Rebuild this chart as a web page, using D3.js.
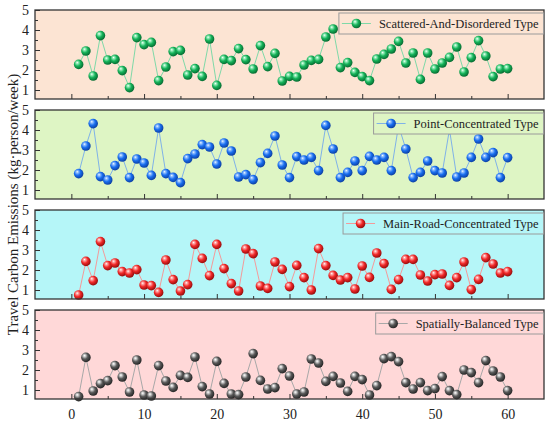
<!DOCTYPE html>
<html>
<head>
<meta charset="utf-8">
<script src="https://cdn.jsdelivr.net/npm/d3@7"></script>
<style>
  body { margin: 0; background: #fff; }
  text { font-family: "Liberation Serif", "Times New Roman", serif; fill: #222; }
</style>
</head>
<body>
<svg id="chart"></svg>
<script>
// data (x = 1..60 for every series)
const seriesNames = ["Scattered-And-Disordered Type", "Point-Concentrated Type",
                     "Main-Road-Concentrated Type", "Spatially-Balanced Type"];
const scattered = [2.28, 2.95, 1.7, 3.72, 2.5, 2.53, 1.97, 1.12, 3.62, 3.27,
                   3.38, 1.47, 2.15, 2.92, 2.98, 1.75, 2.07, 1.68, 3.55, 1.23,
                   2.53, 2.47, 3.07, 2.52, 2.05, 3.22, 2.17, 2.83, 1.45, 1.68,
                   1.65, 2.25, 2.48, 2.53, 3.65, 4.05, 2.12, 2.37, 1.88, 1.67,
                   1.47, 2.55, 2.78, 3.05, 3.43, 2.35, 2.85, 1.53, 2.85, 2.05,
                   2.35, 2.63, 3.15, 1.9, 2.62, 3.47, 2.7, 1.67, 2.05, 2.07];
const pointConc = [1.82, 3.2, 4.32, 1.67, 1.5, 2.22, 2.65, 1.62, 2.55, 2.35,
                   1.73, 4.1, 1.82, 1.63, 1.37, 2.57, 2.8, 3.27, 3.15, 2.3,
                   3.35, 2.95, 1.65, 1.77, 1.52, 2.37, 2.83, 3.7, 2.25, 1.62,
                   2.67, 2.5, 2.63, 1.97, 4.23, 3.05, 1.62, 1.88, 2.45, 1.97,
                   2.68, 2.5, 2.63, 1.97, 4.22, 3.05, 1.62, 1.88, 2.45, 1.97,
                   1.85, 4.03, 1.65, 1.85, 2.63, 3.55, 2.63, 2.87, 1.62, 2.62];
const mainRoad  = [0.75, 2.43, 1.47, 3.42, 2.22, 2.35, 1.92, 1.85, 2.02, 1.25,
                   1.22, 0.88, 2.5, 1.52, 0.95, 1.27, 3.28, 2.58, 1.72, 3.28,
                   2.07, 1.32, 0.95, 3.05, 2.82, 1.2, 1.08, 2.4, 2.03, 1.17,
                   2.23, 1.62, 1.0, 3.07, 2.22, 1.73, 1.5, 1.62, 1.05, 2.2,
                   1.63, 2.85, 2.32, 1.03, 1.52, 2.53, 2.53, 1.75, 1.45, 1.77,
                   1.8, 1.23, 1.62, 2.4, 1.02, 1.53, 2.62, 2.3, 1.85, 1.92];
const balanced  = [0.67, 2.63, 0.95, 1.32, 1.47, 2.22, 1.65, 0.9, 2.5, 0.75,
                   0.7, 2.22, 1.45, 1.13, 1.73, 1.63, 2.65, 1.17, 0.8, 2.43,
                   1.33, 0.8, 0.77, 1.65, 2.82, 1.48, 1.05, 1.12, 2.07, 1.7,
                   0.8, 0.9, 2.55, 2.35, 1.43, 1.68, 1.35, 0.93, 1.68, 1.52,
                   0.75, 1.22, 2.57, 2.67, 2.42, 1.37, 1.05, 1.37, 0.97, 1.07,
                   1.67, 0.97, 0.77, 2.0, 1.87, 1.37, 2.47, 1.95, 1.65, 0.97];
const seriesValues = [scattered, pointConc, mainRoad, balanced];
const yTicks = [1, 2, 3, 4, 5];
const xTicks = [0, 10, 20, 30, 40, 50, 60];
const yTitle = "Travel Carbon Emissions (kg\u00b7person/week)";

// look of each panel
const panelBg   = ["#fce4d3", "#def5c4", "#b5f6f8", "#ffd8d8"];
const lineColor = ["#7fd9a8", "#7fb2e8", "#f49a9a", "#a8a8a8"];
const ballMain  = ["#16b35a", "#1a6ff0", "#f22a2a", "#5a5a5a"];
const ballDark  = ["#04622c", "#0a3a9a", "#8a0808", "#1e1e1e"];
const ballLight = ["#9ff0c0", "#9cc6ff", "#ffb0b0", "#d8d8d8"];

const width = 550, height = 425;
const margin = { left: 35, right: 6 };
const panelTop0 = 10, panelH = 89, panelStep = 100;

const svg = d3.select("#chart").attr("width", width).attr("height", height);
const defs = svg.append("defs");

const x = d3.scaleLinear().domain([-5, 65]).range([margin.left, width - margin.right]);

seriesValues.forEach(function (vals, i) {
    const top = panelTop0 + i * panelStep;
    const bottom = top + panelH;
    const y = d3.scaleLinear().domain([0.55, 5]).range([bottom, top]);
    const pts = vals.map((v, k) => ({ x: k + 1, y: v }));

    // shiny ball gradient
    const grad = defs.append("radialGradient").attr("id", "ball" + i)
        .attr("cx", "40%").attr("cy", "40%").attr("r", "65%")
        .attr("fx", "35%").attr("fy", "30%");
    grad.append("stop").attr("offset", "0%").attr("stop-color", "#ffffff");
    grad.append("stop").attr("offset", "15%").attr("stop-color", ballLight[i]);
    grad.append("stop").attr("offset", "50%").attr("stop-color", ballMain[i]);
    grad.append("stop").attr("offset", "100%").attr("stop-color", ballDark[i]);

    const g = svg.append("g");

    g.append("rect")
        .attr("x", x.range()[0]).attr("y", top)
        .attr("width", x.range()[1] - x.range()[0]).attr("height", panelH)
        .attr("fill", panelBg[i]);

    // y axis, ticks pointing inward
    g.append("g")
        .attr("transform", "translate(" + x.range()[0] + ",0)")
        .call(d3.axisLeft(y).tickValues(yTicks).tickSize(-5).tickPadding(6).tickFormat(d3.format("d")))
        .call(a => a.select(".domain").remove())
        .call(a => a.selectAll("text").style("font-size", "14px").attr("fill", "#222"));
    g.append("g")
        .attr("transform", "translate(" + x.range()[0] + ",0)")
        .call(d3.axisLeft(y).tickValues([1.5, 2.5, 3.5, 4.5]).tickSize(-3).tickFormat(""))
        .call(a => a.select(".domain").remove());

    // x axis on the bottom of the panel
    const xa = g.append("g")
        .attr("transform", "translate(0," + bottom + ")")
        .call(d3.axisBottom(x).tickValues(xTicks).tickSize(-5).tickPadding(10).tickFormat(d3.format("d")))
        .call(a => a.select(".domain").remove())
        .call(a => a.selectAll("text").style("font-size", "14px").attr("fill", "#222"));
    if (i < seriesValues.length - 1) xa.selectAll("text").remove();
    g.append("g")
        .attr("transform", "translate(0," + bottom + ")")
        .call(d3.axisBottom(x).tickValues(d3.range(5, 60, 10)).tickSize(-3).tickFormat(""))
        .call(a => a.select(".domain").remove());

    g.selectAll(".tick line").attr("stroke", "#333");

    // connecting line
    g.append("path")
        .datum(pts)
        .attr("fill", "none")
        .attr("stroke", lineColor[i])
        .attr("stroke-width", 1)
        .attr("d", d3.line().x(d => x(d.x)).y(d => y(d.y)));

    g.selectAll("circle.pt")
        .data(pts)
        .enter()
        .append("circle")
        .attr("class", "pt")
        .attr("cx", d => x(d.x))
        .attr("cy", d => y(d.y))
        .attr("r", 4.8)
        .attr("fill", "url(#ball" + i + ")");

    // frame
    g.append("rect")
        .attr("x", x.range()[0]).attr("y", top)
        .attr("width", x.range()[1] - x.range()[0]).attr("height", panelH)
        .attr("fill", "none")
        .attr("stroke", "#333")
        .attr("stroke-width", 1.3);

    // legend box, flush right
    const leg = g.append("g");
    const txt = leg.append("text")
        .attr("y", top + 13.5 + 4.5)
        .style("font-size", "12.5px")
        .text(seriesNames[i]);
    const tw = txt.node().getComputedTextLength();
    const boxRight = x.range()[1] - 0.5;
    const textX = boxRight - 5 - tw;
    txt.attr("x", textX);
    const lineX1 = textX - 37, lineX2 = textX - 8;
    leg.insert("rect", "text")
        .attr("x", lineX1 - 3).attr("y", top + 3)
        .attr("width", boxRight - lineX1 + 3).attr("height", 21)
        .attr("fill", panelBg[i])
        .attr("stroke", "#9a9a9a")
        .attr("stroke-width", 1);
    leg.append("line")
        .attr("x1", lineX1).attr("x2", lineX2)
        .attr("y1", top + 13.5).attr("y2", top + 13.5)
        .attr("stroke", lineColor[i]).attr("stroke-width", 1);
    leg.append("circle")
        .attr("cx", (lineX1 + lineX2) / 2).attr("cy", top + 13.5)
        .attr("r", 4.8)
        .attr("fill", "url(#ball" + i + ")");
});

// shared y title
svg.append("text")
    .attr("transform", "translate(13," + (panelTop0 + (3 * panelStep + panelH) / 2) + ") rotate(-90)")
    .attr("text-anchor", "middle")
    .attr("dy", "0.35em")
    .style("font-size", "15px")
    .text(yTitle);
</script>
</body>
</html>
